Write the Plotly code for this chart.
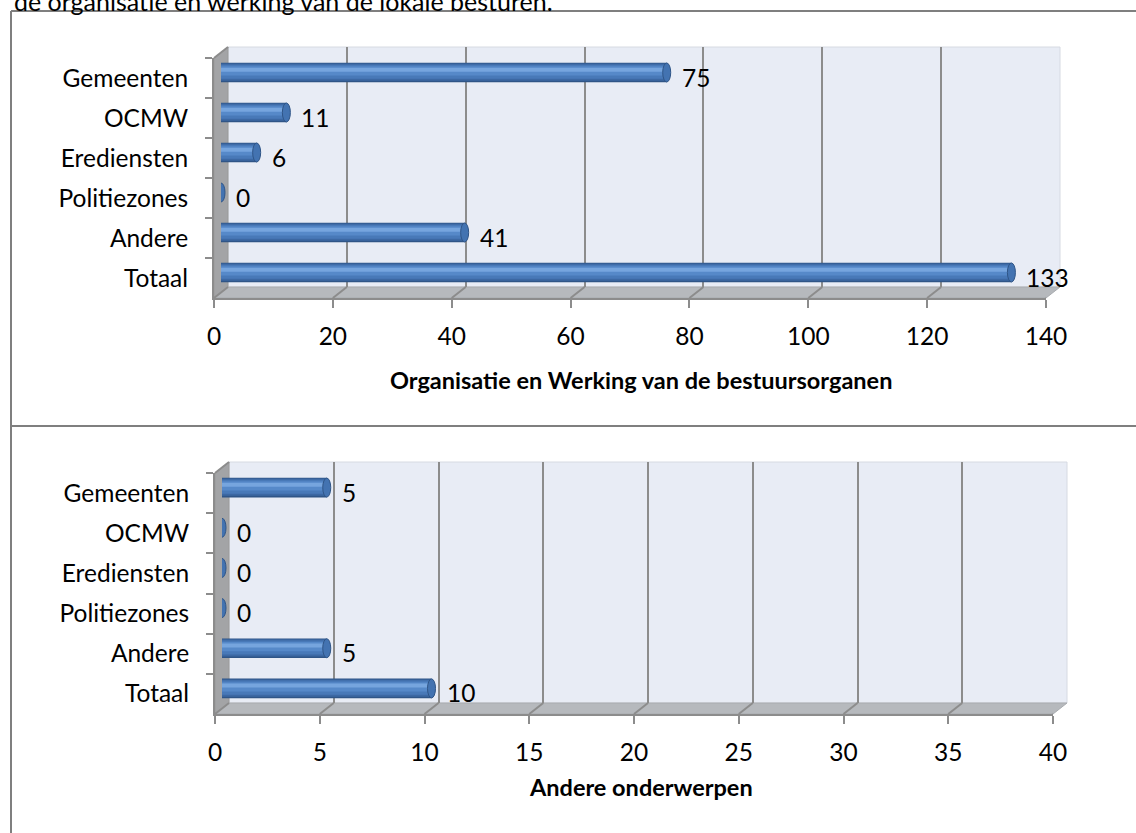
import plotly.graph_objects as go

# ---------------- data ----------------
categories = ["Gemeenten", "OCMW", "Erediensten", "Politiezones", "Andere", "Totaal"]
values_top = [75, 11, 6, 0, 41, 133]
values_bottom = [5, 0, 0, 0, 5, 10]
ticks_top = [0, 20, 40, 60, 80, 100, 120, 140]
ticks_bottom = [0, 5, 10, 15, 20, 25, 30, 35, 40]
title_top = "Organisatie en Werking van de bestuursorganen"
title_bottom = "Andere onderwerpen"
heading = "de organisatie en werking van de lokale besturen."

# ---------------- geometry (pixels) ----------------
W, H = 1136, 833
DX, DY = 14, 11          # 3D depth offset (back wall vs front axis)
FONT = "Lato"
FS = 24.5
GRID = "#8C8C8C"

def px(x):
    return x / W

def py(y):
    return 1 - y / H

charts = [
    dict(values=values_top, ticks=ticks_top, title=title_top,
         fx0=214, fx1=1046, fy0=58, fy1=298, title_y=380),
    dict(values=values_bottom, ticks=ticks_bottom, title=title_bottom,
         fx0=215, fx1=1053, fy0=473, fy1=714, title_y=787),
]

def aid(n):
    return ("" if n == 1 else str(n))

fig = go.Figure()
shapes = []
annotations = []
layout = {}

bar_layers = [  # (width, center shift, colour) -> cylinder shading
    (0.49, 0.00, "#2F5587"),
    (0.43, -0.01, "#3C68A3"),
    (0.35, -0.02, "#4879B8"),
    (0.23, -0.04, "#5689C9"),
    (0.10, -0.07, "#76A5DE"),
]

for k, c in enumerate(charts):
    f, b, m = 3 * k + 1, 3 * k + 2, 3 * k + 3
    vals, ticks = c["values"], c["ticks"]
    xmax = ticks[-1]
    fx0, fx1, fy0, fy1 = c["fx0"], c["fx1"], c["fy0"], c["fy1"]
    bx0, bx1, by0, by1 = fx0 + DX, fx1 + DX, fy0 - DY, fy1 - DY
    mx0, mx1, my0, my1 = fx0 + DX / 2, fx1 + DX / 2, fy0 - DY / 2, fy1 - DY / 2

    common_y = dict(type="category", categoryarray=categories, range=[5.5, -0.5])
    # front axes (labels, ticks)
    layout["xaxis" + aid(f)] = dict(
        domain=[px(fx0), px(fx1)], anchor="y" + aid(f), range=[0, xmax],
        tickvals=ticks, showgrid=False, zeroline=False, showline=True,
        linecolor=GRID, linewidth=2, ticks="outside", ticklen=8, tickwidth=2,
        tickcolor=GRID, tickfont=dict(family=FONT, size=FS, color="black"),
        ticklabelstandoff=8, automargin=False, fixedrange=True)
    layout["yaxis" + aid(f)] = dict(
        domain=[py(fy1), py(fy0)], anchor="x" + aid(f), **common_y,
        showgrid=False, zeroline=False, showline=True, linecolor=GRID,
        linewidth=2, ticks="outside", tickson="boundaries", ticklen=7,
        tickwidth=2, tickcolor=GRID,
        tickfont=dict(family=FONT, size=FS, color="black"),
        ticklabelstandoff=19, automargin=False, fixedrange=True)
    # back wall axes (gridlines)
    layout["xaxis" + aid(b)] = dict(
        domain=[px(bx0), px(bx1)], anchor="y" + aid(b), range=[0, xmax],
        tickvals=ticks, showgrid=True, gridcolor=GRID, gridwidth=2,
        zeroline=False, showticklabels=False, ticks="", showline=False,
        fixedrange=True)
    layout["yaxis" + aid(b)] = dict(
        domain=[py(by1), py(by0)], anchor="x" + aid(b), **common_y,
        showgrid=False, zeroline=False, showticklabels=False, ticks="",
        showline=False, fixedrange=True)
    # mid-depth axes (bars)
    layout["xaxis" + aid(m)] = dict(
        domain=[px(mx0), px(mx1)], anchor="y" + aid(m), range=[0, xmax],
        visible=False, fixedrange=True)
    layout["yaxis" + aid(m)] = dict(
        domain=[py(my1), py(my0)], anchor="x" + aid(m), **common_y,
        visible=False, fixedrange=True)

    for n in (f, b):
        fig.add_trace(go.Scatter(x=vals, y=categories, mode="markers",
                                 marker=dict(opacity=0), hoverinfo="skip",
                                 xaxis="x" + aid(n), yaxis="y" + aid(n)))
    for w, sh, col in bar_layers:
        fig.add_trace(go.Bar(x=vals, y=categories, orientation="h",
                             width=w, offset=-w / 2 + sh,
                             marker=dict(color=col, line=dict(width=0)),
                             hoverinfo="skip",
                             xaxis="x" + aid(m), yaxis="y" + aid(m)))

    # back wall
    shapes.append(dict(type="rect", xref="x%s domain" % aid(b), yref="y%s domain" % aid(b),
                       x0=0, x1=1, y0=0, y1=1, fillcolor="#E8ECF5",
                       line=dict(color="#D6DAE2", width=1), layer="below"))
    # side wall
    shapes.append(dict(type="path", xref="paper", yref="paper",
                       path="M %f %f L %f %f L %f %f L %f %f Z" % (
                           px(fx0), py(fy0), px(bx0), py(by0),
                           px(bx0), py(by1), px(fx0), py(fy1)),
                       fillcolor="#A3A4A6", line=dict(color="#9A9A9A", width=1),
                       layer="below"))
    # floor
    shapes.append(dict(type="path", xref="paper", yref="paper",
                       path="M %f %f L %f %f L %f %f L %f %f Z" % (
                           px(bx0), py(by1), px(bx1), py(by1),
                           px(fx1), py(fy1), px(fx0), py(fy1)),
                       fillcolor="#B6B9BD", line=dict(color="#A8ABAF", width=1),
                       layer="below"))
    # floor diagonals at every tick
    for v in ticks:
        shapes.append(dict(type="line", xref="x" + aid(f), yref="paper",
                           xsizemode="pixel", xanchor=v, x0=0, x1=DX,
                           y0=py(fy1), y1=py(by1),
                           line=dict(color=GRID, width=2), layer="above"))
    # side wall top edge
    shapes.append(dict(type="line", xref="paper", yref="paper",
                       x0=px(fx0), y0=py(fy0), x1=px(bx0), y1=py(by0),
                       line=dict(color=GRID, width=2)))
    # cylinder end caps + value labels
    for i, v in enumerate(vals):
        shapes.append(dict(type="circle", xref="x" + aid(m), yref="y" + aid(m),
                           xsizemode="pixel", ysizemode="pixel",
                           xanchor=v, yanchor=i, x0=-4, x1=4, y0=-9.5, y1=9.5,
                           fillcolor="#4373B1", line=dict(color="#2F5587", width=1),
                           layer="above"))
        annotations.append(dict(xref="x" + aid(f), yref="y" + aid(f), x=v, y=i,
                                text=str(v), showarrow=False, xanchor="left",
                                yanchor="middle", xshift=20, yshift=1,
                                font=dict(family=FONT, size=FS, color="black")))
    annotations.append(dict(xref="paper", yref="paper", x=px(641), y=py(c["title_y"]),
                            text="<b>%s</b>" % c["title"], showarrow=False,
                            xanchor="center", yanchor="middle",
                            font=dict(family=FONT, size=FS - 1, color="black")))

# document frame lines (kept inside the page)
for (x0, y0, x1, y1) in [(11, 11, W, 11), (11, 11, 11, H), (11, 426, W, 426)]:
    shapes.append(dict(type="line", xref="paper", yref="paper",
                       x0=px(x0), y0=py(y0), x1=px(x1), y1=py(y1),
                       line=dict(color="#7F7F7F", width=2)))

annotations.append(dict(xref="paper", yref="paper", x=px(12), y=py(18),
                        text=heading, showarrow=False, xanchor="left",
                        yanchor="bottom",
                        font=dict(family=FONT, size=25, color="black")))

fig.update_layout(
    width=W, height=H, autosize=False,
    margin=dict(l=0, r=0, t=0, b=0, pad=0, autoexpand=False),
    paper_bgcolor="white", plot_bgcolor="rgba(0,0,0,0)",
    showlegend=False, barmode="overlay",
    shapes=shapes, annotations=annotations, **layout)

fig.write_html("out.html", config={"displayModeBar": False},
               post_script="document.body.style.margin='0';"
                           "document.documentElement.style.overflow='hidden';"
                           "document.body.style.overflow='hidden';")
